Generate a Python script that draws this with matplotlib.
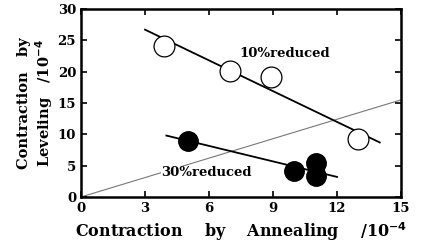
import matplotlib
matplotlib.use("Agg")
import matplotlib.pyplot as plt
import numpy as np

x10 = [3.9, 7.0, 8.9, 13.0]
y10 = [24.1, 20.1, 19.2, 9.2]
x30 = [5.0, 10.0, 11.0, 11.0]
y30 = [9.0, 4.2, 5.4, 3.3]
fit10_x = [3.0, 14.0]
fit10_y = [26.7, 8.7]
fit30_x = [4.0, 12.0]
fit30_y = [9.8, 3.2]
diag_x = [0, 15]
diag_y = [0, 15.5]
xticks = [0, 3, 6, 9, 12, 15]
yticks = [0, 5, 10, 15, 20, 25, 30]

plt.rcParams['font.family'] = ['DejaVu Serif']
plt.rcParams['font.weight'] = 'bold'

fig = plt.figure(figsize=(4.24, 2.42), dpi=100)
ax = fig.add_axes([0.191, 0.186, 0.755, 0.777])

ax.plot(diag_x, diag_y, color='#777777', lw=0.8, zorder=1)
ax.plot(fit10_x, fit10_y, color='black', lw=1.3, zorder=2)
ax.plot(fit30_x, fit30_y, color='black', lw=1.3, zorder=2)
ax.plot(x10, y10, 'o', ms=15, mfc='white', mec='black', mew=0.9, zorder=3)
ax.plot(x30, y30, 'o', ms=14, mfc='black', mec='black', zorder=3)

ax.text(7.4, 22.9, '10%reduced', fontsize=9.5, fontweight='bold', va='center', ha='left')
ax.text(3.75, 3.85, '30%reduced', fontsize=9.5, fontweight='bold', va='center', ha='left',
        bbox=dict(facecolor='white', edgecolor='none', pad=0.3))

ax.set_xlim(0, 15)
ax.set_ylim(0, 30)
ax.set_xticks(xticks)
ax.set_yticks(yticks)
ax.tick_params(direction='in', top=True, right=True, length=4, width=1.2, labelsize=9.5)
ax.set_xticklabels([str(v) for v in xticks], fontweight='bold')
ax.set_yticklabels([str(v) for v in yticks], fontweight='bold')
for s in ax.spines.values():
    s.set_linewidth(1.8)

ax.set_xlabel('Contraction    by    Annealing    /10$^{\\mathbf{-4}}$', fontsize=11.5, fontweight='bold', labelpad=4)
ax.set_ylabel('Contraction   by\nLeveling   /10$^{\\mathbf{-4}}$', fontsize=10.5, fontweight='bold', labelpad=2, linespacing=1.1)

fig.savefig('out.png', dpi=100)
